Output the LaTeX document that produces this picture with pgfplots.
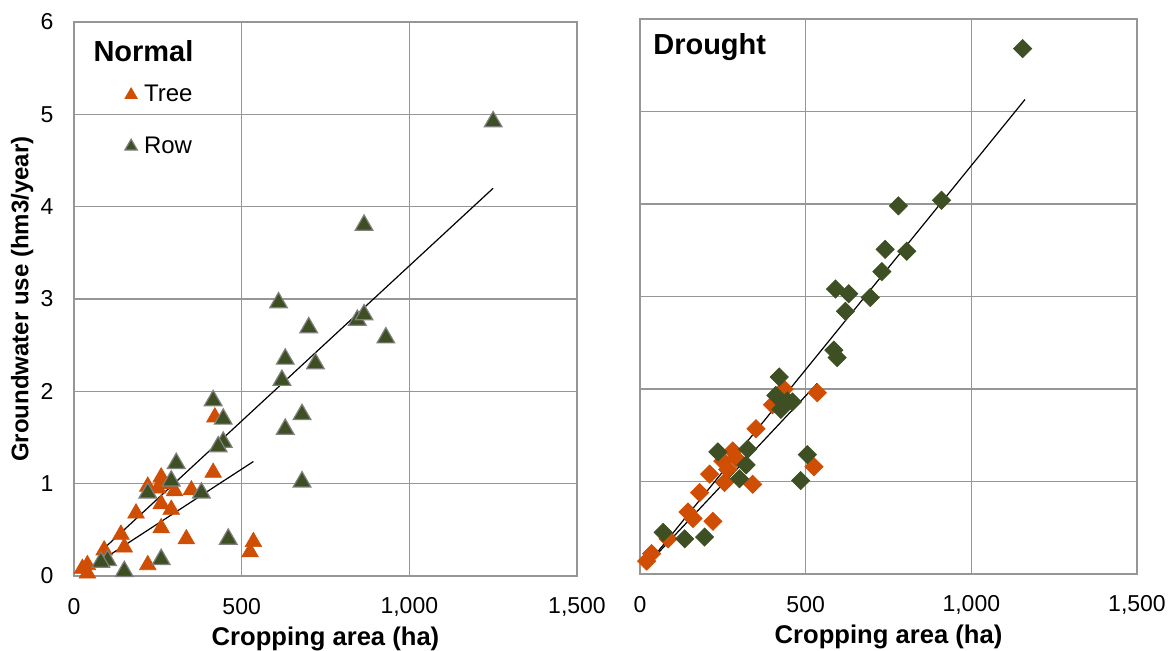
\documentclass[border=0pt]{standalone}
\usepackage{pgfplots}
\pgfplotsset{compat=1.18}
\usepackage{fontspec}
\setmainfont{Liberation Sans}
\definecolor{treeC}{RGB}{207,78,4}
\definecolor{rowC}{RGB}{62,80,35}
\definecolor{gridC}{RGB}{150,150,150}
\definecolor{edgeC}{RGB}{128,128,128}

\pgfplotsset{
 myaxis/.style={
  scale only axis,
  xmin=0,xmax=1500,ymin=0,ymax=6,
  xtick={0,500,1000,1500}, ytick={0,1,2,3,4,5,6},
  grid=major, major grid style={gridC, line width=0.8pt},
  axis line style={gridC, line width=0.8pt},
  major tick length=0pt,
  tick label style={font=\fontsize{11.5}{13}\selectfont},
  /pgf/number format/assume math mode=true,
  /pgf/number format/1000 sep={,},
  xticklabel style={anchor=center, yshift=-15.5pt},
  yticklabel style={anchor=center, xshift=-13.5pt},
  xlabel={Cropping area (ha)},
  xlabel style={font=\bfseries\fontsize{12.8}{14}\selectfont, at={(axis description cs:0.5,-0.113)}, anchor=center},
  clip=false,
 },
 treeTri/.style={only marks, mark=triangle*, mark size=4.8pt, mark options={draw=treeC, fill=treeC, line width=0.3pt}},
 rowTri/.style={only marks, mark=triangle*, mark size=5.1pt, mark options={draw=edgeC, fill=rowC, line width=0.6pt}},
 treeDia/.style={only marks, mark=square*, mark size=3.2pt, mark options={draw=treeC, fill=treeC, rotate=45}},
 rowDia/.style={only marks, mark=square*, mark size=3.2pt, mark options={draw=rowC, fill=rowC, rotate=45}},
 trend/.style={black, line width=0.6pt, no marks},
}

\begin{document}
\begin{tikzpicture}
% ---------------- Normal ----------------
\begin{axis}[myaxis,
  at={(37pt,37pt)}, anchor=south west,
  width=251.5pt, height=277pt,
  ylabel={Groundwater use (hm3/year)},
  ylabel style={font=\bfseries\fontsize{12}{14}\selectfont, at={(axis description cs:-0.103,0.5)}, anchor=center},
  legend style={draw=none, fill=none, at={(axis description cs:0.095,0.894)}, anchor=north west,
    font=\fontsize{12}{14}\selectfont, row sep=12pt, inner sep=0pt, cells={anchor=west}},
  legend image code/.code={\path (0cm,0cm) (0.3cm,0cm); \draw[#1, mark size=3.6pt] plot coordinates {(0.15cm,0cm)};},
]
\addplot[treeTri] coordinates {
(25,0.08) (40,0.12) (40,0.03) (90,0.28) (150,0.31) (140,0.45) (185,0.68)
(220,0.12) (220,0.97) (250,0.95) (260,1.07) (270,1.00) (260,0.78) (260,0.52)
(290,0.72) (300,0.92) (335,0.40) (350,0.93) (415,1.12) (420,1.72) (535,0.37) (525,0.26)
};
\addlegendentry{Tree}
\addplot[rowTri] coordinates {
(1250,4.92) (865,3.80) (610,2.96) (700,2.69) (845,2.77) (865,2.83) (930,2.58)
(630,2.35) (720,2.30) (620,2.12) (680,1.75) (630,1.59) (680,1.02) (415,1.90)
(445,1.70) (445,1.45) (430,1.40) (305,1.22) (380,0.90) (290,1.03) (220,0.90)
(260,0.18) (150,0.05) (100,0.17) (80,0.15) (460,0.40)
};
\addlegendentry{Row}
\addplot[trend, forget plot] coordinates {(75,0.25) (1250,4.20)};
\addplot[trend, forget plot] coordinates {(27,0.04) (535,1.24)};
\node[anchor=west, inner sep=0pt, font=\bfseries\fontsize{14.5}{16}\selectfont] at (axis description cs:0.038,0.947) {Normal};
\end{axis}
% ---------------- Drought ----------------
\begin{axis}[myaxis,
  at={(320pt,38pt)}, anchor=south west,
  width=248.5pt, height=277.5pt,
  yticklabels={},
]
\addplot[treeDia] coordinates {
(20,0.14) (35,0.22) (85,0.38) (145,0.67) (160,0.60) (180,0.88) (220,0.57)
(210,1.08) (250,1.22) (265,1.13) (255,0.99) (280,1.33) (290,1.25) (340,0.97)
(350,1.57) (400,1.83) (435,2.00) (525,1.16) (535,1.96)
};
\addplot[rowDia] coordinates {
(1155,5.68) (910,4.04) (780,3.98) (740,3.51) (805,3.49) (730,3.27) (590,3.08)
(630,3.03) (695,2.99) (620,2.84) (585,2.42) (595,2.34) (420,2.13) (410,1.93)
(445,1.87) (425,1.78) (460,1.86) (505,1.29) (485,1.01) (235,1.32) (325,1.35)
(320,1.18) (300,1.03) (70,0.45) (135,0.38) (195,0.40)
};
\addplot[trend] coordinates {(24,0.11) (1162,5.13)};
\addplot[trend] coordinates {(24,0.11) (535,2.06)};
\node[anchor=west, inner sep=0pt, font=\bfseries\fontsize{14.5}{16}\selectfont] at (axis description cs:0.026,0.95) {Drought};
\end{axis}
\pgfresetboundingbox
\path[use as bounding box] (0,0) rectangle (584pt,325pt);
\end{tikzpicture}
\end{document}
